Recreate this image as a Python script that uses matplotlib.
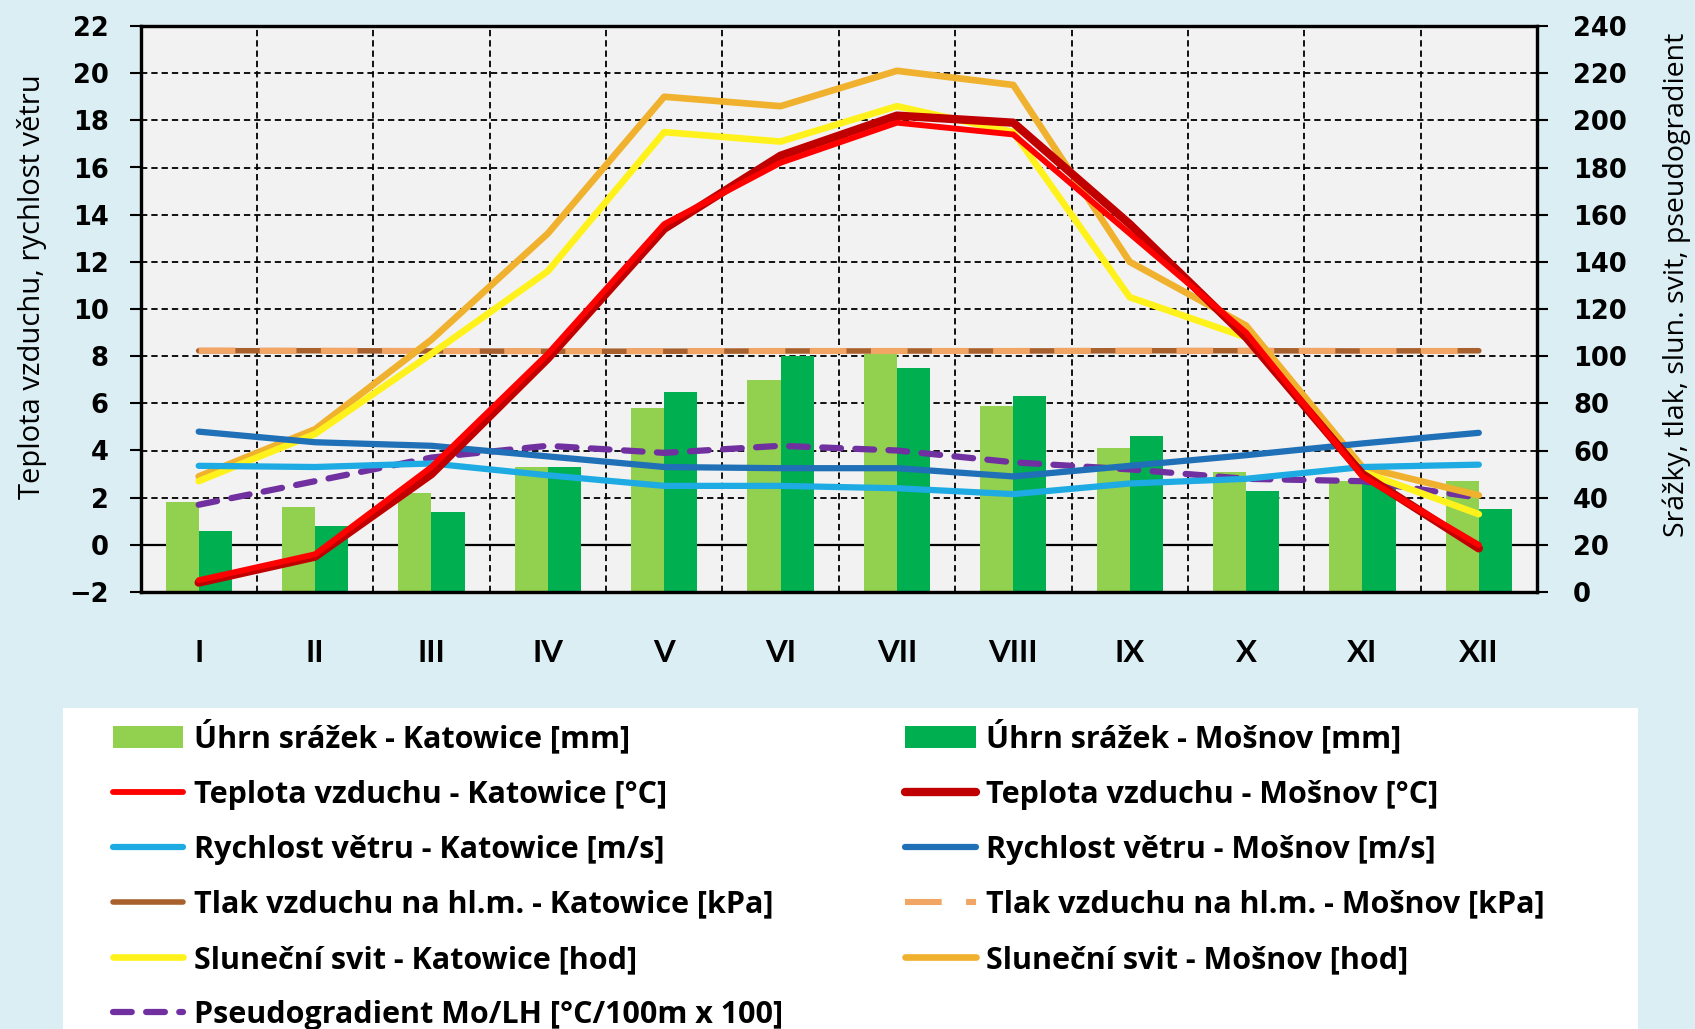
import numpy as np
import matplotlib
matplotlib.use("Agg")
import matplotlib.pyplot as plt
from matplotlib.transforms import blended_transform_factory

plt.rcParams['font.family'] = ['Open Sans', 'DejaVu Sans']

# monthly values
months = ['I', 'II', 'III', 'IV', 'V', 'VI', 'VII', 'VIII', 'IX', 'X', 'XI', 'XII']
precip_kat = [38, 36, 42, 53, 78, 90, 101, 79, 61, 51, 47, 47]
precip_mos = [26, 28, 34, 53, 85, 100, 95, 83, 66, 43, 46, 35]
temp_kat = [-1.5, -0.4, 3.3, 8.1, 13.6, 16.2, 17.9, 17.4, 13.2, 9.0, 2.9, 0.0]
temp_mos = [-1.6, -0.5, 3.0, 7.9, 13.4, 16.5, 18.2, 17.9, 13.6, 8.8, 3.0, -0.15]
wind_kat = [3.35, 3.3, 3.45, 2.95, 2.5, 2.5, 2.4, 2.15, 2.6, 2.8, 3.3, 3.4]
wind_mos = [4.8, 4.35, 4.2, 3.75, 3.3, 3.25, 3.25, 2.9, 3.35, 3.8, 4.3, 4.75]
press_kat = [102.3, 102.3, 102.2, 102.1, 102.1, 102.2, 102.2, 102.2, 102.3, 102.3, 102.2, 102.3]
press_mos = [102.4, 102.3, 102.2, 102.1, 102.1, 102.2, 102.2, 102.2, 102.3, 102.3, 102.2, 102.2]
sun_kat = [47, 67, 101, 136, 195, 191, 206, 195, 125, 108, 51, 33]
sun_mos = [49, 69, 107, 152, 210, 206, 221, 215, 140, 113, 53, 41]
pseudo = [37, 47, 57, 62, 59, 62, 60, 55, 52, 48, 47, 40]

left_ticks = list(range(-2, 23, 2))
right_ticks = list(range(0, 241, 20))

bg = '#DBEEF4'
x = np.arange(len(months))
bw = 0.285

fig = plt.figure(figsize=(16.95, 10.29), dpi=100, facecolor=bg)
ax = fig.add_axes([140.5 / 1695, 1 - 592 / 1029, 1396.5 / 1695, 566 / 1029])
ax2 = ax.twinx()
ax.set_zorder(ax2.get_zorder() + 1)
ax.patch.set_visible(False)
ax2.patch.set_visible(True)
ax2.patch.set_facecolor('#F2F2F2')

# grid behind everything
ax2.set_axisbelow(True)
ax2.xaxis.set_visible(True)
ax.set_xticks(x)
ax.set_xticks(x[:-1] + 0.5, minor=True)
ax2.tick_params(axis='x', which='both', length=0, labelbottom=False)
ax2.grid(axis='y', which='major', color='black', linestyle=(0, (3.5, 2.2)), linewidth=1.3)
ax2.grid(axis='x', which='minor', color='black', linestyle=(0, (3.5, 2.2)), linewidth=1.3)
zero_tr = blended_transform_factory(ax2.transAxes, ax.transData)
ax2.plot([0, 1], [0, 0], transform=zero_tr, color='black', lw=1.6, zorder=0.8)

# bars (right axis)
b1 = ax2.bar(x - bw / 2, precip_kat, bw, color='#92D050', zorder=1,
             label='Úhrn srážek - Katowice [mm]')
b2 = ax2.bar(x + bw / 2, precip_mos, bw, color='#00B050', zorder=1,
             label='Úhrn srážek - Mošnov [mm]')

# right-axis lines
p1, = ax2.plot(x, press_kat, color='#A8602C', lw=4.0, solid_capstyle='round', zorder=2,
               label='Tlak vzduchu na hl.m. - Katowice [kPa]')
p2, = ax2.plot(x, press_mos, color='#F2A665', lw=4.4, linestyle=(0, (6.0, 4.0)),
               dash_capstyle='butt', zorder=2.1,
               label='Tlak vzduchu na hl.m. - Mošnov [kPa]')
pg, = ax2.plot(x, pseudo, color='#7030A0', lw=4.5, linestyle=(0, (3.0, 2.3)),
               dash_capstyle='round', zorder=2.2,
               label='Pseudogradient Mo/LH [°C/100m x 100]')
s2, = ax2.plot(x, sun_mos, color='#F0B22E', lw=4.8, solid_capstyle='round', zorder=2.3,
               label='Sluneční svit - Mošnov [hod]')
s1, = ax2.plot(x, sun_kat, color='#FFF21C', lw=4.8, solid_capstyle='round', zorder=2.4,
               label='Sluneční svit - Katowice [hod]')

# left-axis lines
w1, = ax.plot(x, wind_kat, color='#1EAAE2', lw=4.5, solid_capstyle='round',
              label='Rychlost větru - Katowice [m/s]')
w2, = ax.plot(x, wind_mos, color='#1F70B6', lw=4.5, solid_capstyle='round',
              label='Rychlost větru - Mošnov [m/s]')
t2, = ax.plot(x, temp_mos, color='#C00000', lw=6.0, solid_capstyle='round',
              label='Teplota vzduchu - Mošnov [°C]')
t1, = ax.plot(x, temp_kat, color='#FF0000', lw=4.2, solid_capstyle='round',
              label='Teplota vzduchu - Katowice [°C]')

ax.set_xlim(-0.5, len(months) - 0.5)
ax.set_ylim(left_ticks[0], left_ticks[-1])
ax2.set_ylim(right_ticks[0], right_ticks[-1])
ax.set_yticks(left_ticks)
ax2.set_yticks(right_ticks)
ax.set_xticklabels(months)

for a in (ax, ax2):
    for s in a.spines.values():
        s.set_linewidth(2.3)
        s.set_color('black')

ax.tick_params(axis='x', which='both', length=0, pad=34)
ax.tick_params(axis='y', direction='out', length=8, width=1.5, pad=15)
ax2.tick_params(axis='y', direction='out', length=8, width=1.5, pad=18)
for lab in ax.get_xticklabels():
    lab.set_fontfamily('Lato')
    lab.set_fontsize(22.5)
    lab.set_fontweight('bold')
for lab in ax.get_yticklabels() + ax2.get_yticklabels():
    lab.set_fontfamily('DejaVu Sans')
    lab.set_fontsize(18.5)
    lab.set_fontweight('bold')

ax.set_ylabel('Teplota vzduchu, rychlost větru', fontsize=21)
ax.yaxis.set_label_coords(-0.067, 0.54)
ax2.set_ylabel('Srážky, tlak, slun. svit, pseudogradient', fontsize=20.5)
ax2.yaxis.set_label_coords(1.090, 0.543)

# white legend panel
fig.patches.append(plt.Rectangle((63 / 1695, 0), (1638 - 63) / 1695, (1029 - 708) / 1029,
                                 transform=fig.transFigure, facecolor='white',
                                 edgecolor='none', zorder=0))

handles = [b1, t1, w1, p1, s1, pg, b2, t2, w2, p2, s2]
fig.legend(handles, [h.get_label() for h in handles], loc='upper left',
           bbox_to_anchor=(113 / 1695, 1 - 720 / 1029), ncol=2, frameon=False,
           prop={'family': 'Open Sans', 'weight': 'bold', 'size': 22},
           handlelength=2.3, handletextpad=0.35,
           labelspacing=0.82, columnspacing=4.0, borderpad=0, borderaxespad=0)

fig.savefig('out.png', dpi=100, facecolor=bg)
